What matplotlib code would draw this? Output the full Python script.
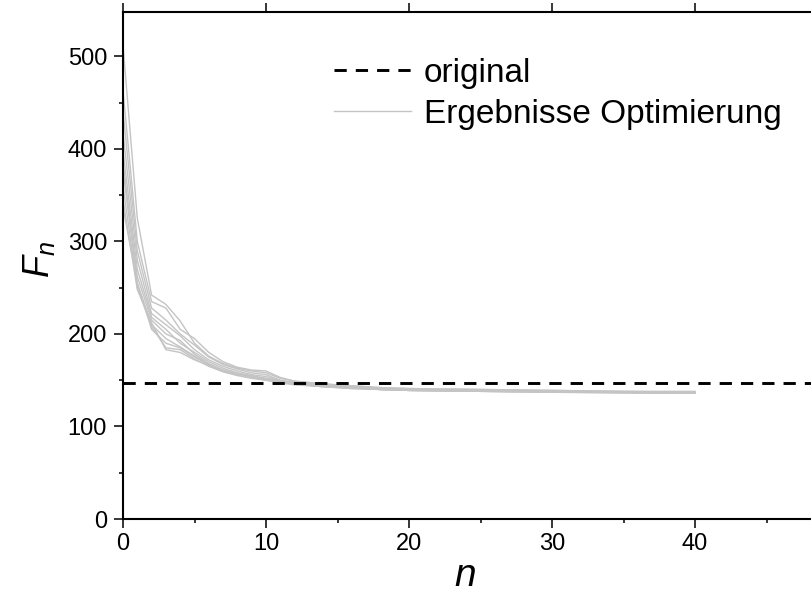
import numpy as np
import matplotlib.pyplot as plt
from matplotlib.ticker import MultipleLocator, FixedLocator

plt.rcParams['font.family'] = ['Liberation Sans', 'DejaVu Sans']
plt.rcParams['mathtext.fontset'] = 'custom'
plt.rcParams['mathtext.it'] = 'Liberation Sans:italic'
plt.rcParams['mathtext.rm'] = 'Liberation Sans'

n = [0, 1, 2, 3, 4, 5, 6, 7, 8, 9, 10, 11, 12, 14, 16, 18, 20, 25, 30, 35, 40]

# optimisation runs (F_n)
run1 = [512, 325, 242, 232, 214, 190, 176, 168, 163, 160, 158, 152, 149, 146, 144, 142, 141, 140, 139, 138, 137]
run2 = [463, 300, 235, 228, 205, 195, 180, 170, 164, 161, 160, 153, 149, 146, 144, 142, 141, 140, 139, 138, 138]
run3 = [440, 290, 228, 215, 200, 188, 175, 167, 162, 158, 156, 150, 148, 145, 143, 141, 140, 139, 138, 137, 137]
run4 = [417, 280, 222, 210, 198, 183, 172, 165, 160, 156, 154, 149, 147, 144, 142, 141, 140, 139, 138, 137, 136]
run5 = [398, 270, 218, 205, 190, 180, 170, 163, 158, 155, 152, 149, 147, 144, 142, 141, 140, 139, 138, 137, 137]
run6 = [385, 262, 215, 200, 193, 178, 168, 161, 157, 154, 151, 148, 146, 144, 142, 140, 139, 139, 138, 137, 136]
run7 = [377, 255, 210, 195, 186, 176, 167, 160, 156, 153, 150, 148, 146, 143, 142, 140, 139, 138, 137, 137, 136]
run8 = [360, 250, 208, 185, 183, 173, 165, 159, 155, 152, 150, 147, 145, 143, 141, 140, 139, 138, 137, 136, 136]
run9 = [345, 248, 212, 183, 180, 172, 166, 160, 156, 153, 151, 148, 146, 144, 142, 140, 139, 138, 138, 137, 137]
run10 = [337, 255, 205, 190, 185, 175, 167, 161, 157, 154, 152, 148, 146, 143, 141, 140, 139, 138, 137, 137, 136]
runs = [run1, run2, run3, run4, run5, run6, run7, run8, run9, run10]

F_original = 147
x_ticks = [0, 10, 20, 30, 40]

fig = plt.figure(figsize=(8.11, 5.95), dpi=100)
ax = fig.add_axes([123/811, 76/595, 715/811, 507/595])

ax.axhline(F_original, color='black', lw=2.1, dashes=(4.2, 3.1), label='original', zorder=3)
for i, r in enumerate(runs):
    ax.plot(n, r, color='#c4c4c4', lw=1,
            label='Ergebnisse Optimierung' if i == 0 else None)

ax.set_xlim(0, 50)
ax.set_ylim(0, 548)
ax.xaxis.set_major_locator(FixedLocator(x_ticks))
ax.xaxis.set_minor_locator(FixedLocator([5, 15, 25, 35, 45]))
ax.yaxis.set_major_locator(MultipleLocator(100))
ax.yaxis.set_minor_locator(MultipleLocator(50))

for s in ax.spines.values():
    s.set_linewidth(1.5)
ax.spines['right'].set_visible(False)

ax.tick_params(which='major', direction='out', length=6.5, width=1.1, labelsize=17)
ax.tick_params(axis='y', which='major', pad=5)
ax.tick_params(axis='x', which='major', pad=3.5)
ax.tick_params(which='minor', direction='out', length=3.2, width=1.1)
ax.tick_params(axis='x', which='major', top=True, labeltop=False)
ax.tick_params(axis='x', which='minor', top=False)

ax.set_xlabel('n', fontsize=28, style='italic', va='baseline')
ax.xaxis.set_label_coords((465 - 123) / 715, -(586 - 519) / 507)
ax.set_ylabel(r'$F_n$', fontsize=26)
ax.yaxis.set_label_coords(-0.093, (519 - 260) / 507)

ax.legend(loc='upper left', bbox_to_anchor=(334/811, 1 - 58/595),
          bbox_transform=fig.transFigure, frameon=False, fontsize=24,
          handlelength=2.3, handletextpad=0.4, labelspacing=0.3,
          borderpad=0, borderaxespad=0)

fig.savefig('out.png', dpi=100)
